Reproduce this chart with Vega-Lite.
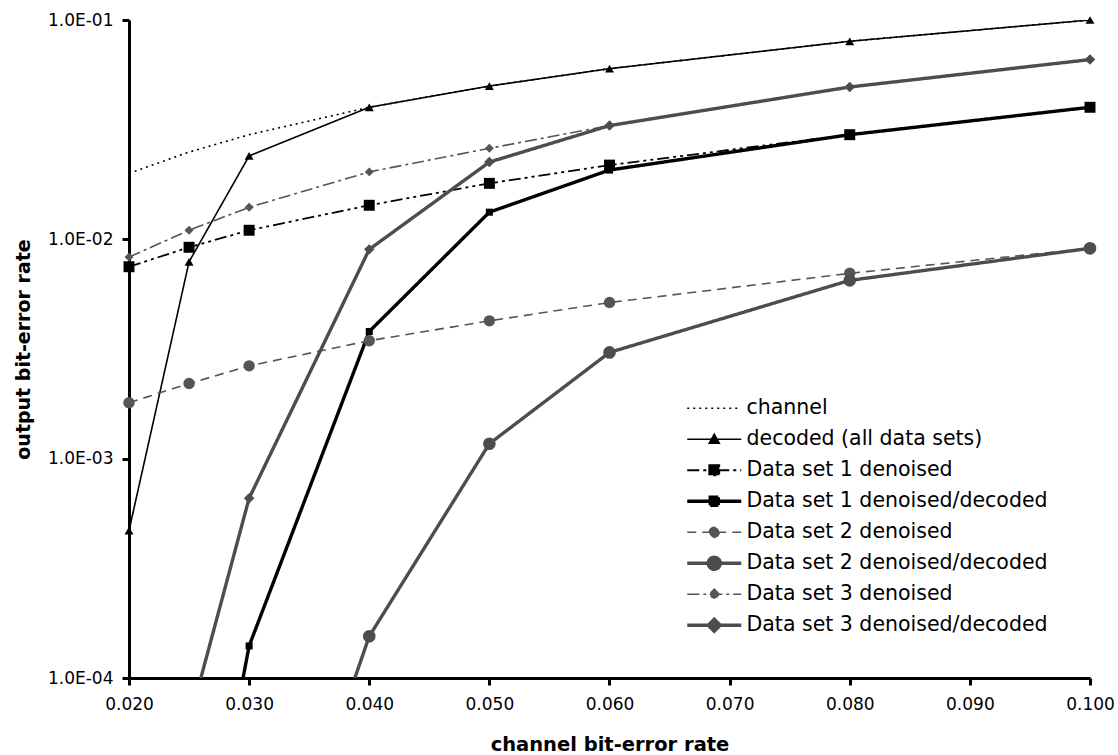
{
  "$schema": "https://vega.github.io/schema/vega-lite/v6.json",
  "width": 961,
  "height": 658,
  "autosize": {"type": "none"},
  "padding": {"left": 129, "top": 20, "right": 28, "bottom": 77},
  "background": "white",
  "config": {
    "view": {"stroke": null},
    "font": "DejaVu Sans",
    "axis": {
      "grid": false,
      "domainColor": "#000000",
      "domainWidth": 3,
      "tickColor": "#000000",
      "tickWidth": 3,
      "tickSize": 7,
      "labelFont": "DejaVu Sans",
      "labelFontSize": 17,
      "labelColor": "#000000",
      "titleFont": "DejaVu Sans",
      "titleFontWeight": "bold",
      "titleFontSize": 19.5,
      "titleColor": "#000000"
    }
  },
  "data": {
    "values": [
      {"series": "channel", "x": 0.02, "y": 0.02},
      {"series": "channel", "x": 0.025, "y": 0.025},
      {"series": "channel", "x": 0.03, "y": 0.03},
      {"series": "channel", "x": 0.04, "y": 0.04},
      {"series": "channel", "x": 0.05, "y": 0.05},
      {"series": "channel", "x": 0.06, "y": 0.06},
      {"series": "channel", "x": 0.08, "y": 0.08},
      {"series": "channel", "x": 0.1, "y": 0.1},
      {"series": "decoded (all data sets)", "x": 0.02, "y": 0.00047},
      {"series": "decoded (all data sets)", "x": 0.025, "y": 0.0079},
      {"series": "decoded (all data sets)", "x": 0.03, "y": 0.024},
      {"series": "decoded (all data sets)", "x": 0.04, "y": 0.04},
      {"series": "decoded (all data sets)", "x": 0.05, "y": 0.05},
      {"series": "decoded (all data sets)", "x": 0.06, "y": 0.06},
      {"series": "decoded (all data sets)", "x": 0.08, "y": 0.08},
      {"series": "decoded (all data sets)", "x": 0.1, "y": 0.1},
      {"series": "Data set 1 denoised", "x": 0.02, "y": 0.0075},
      {"series": "Data set 1 denoised", "x": 0.025, "y": 0.0092},
      {"series": "Data set 1 denoised", "x": 0.03, "y": 0.011},
      {"series": "Data set 1 denoised", "x": 0.04, "y": 0.0143},
      {"series": "Data set 1 denoised", "x": 0.05, "y": 0.018},
      {"series": "Data set 1 denoised", "x": 0.06, "y": 0.0218},
      {"series": "Data set 1 denoised", "x": 0.08, "y": 0.03},
      {"series": "Data set 1 denoised", "x": 0.1, "y": 0.04},
      {"series": "Data set 1 denoised/decoded", "x": 0.025, "y": 0.000005},
      {"series": "Data set 1 denoised/decoded", "x": 0.03, "y": 0.00014},
      {"series": "Data set 1 denoised/decoded", "x": 0.04, "y": 0.0038},
      {"series": "Data set 1 denoised/decoded", "x": 0.05, "y": 0.0133},
      {"series": "Data set 1 denoised/decoded", "x": 0.06, "y": 0.0207},
      {"series": "Data set 1 denoised/decoded", "x": 0.08, "y": 0.03},
      {"series": "Data set 1 denoised/decoded", "x": 0.1, "y": 0.04},
      {"series": "Data set 2 denoised", "x": 0.02, "y": 0.0018},
      {"series": "Data set 2 denoised", "x": 0.025, "y": 0.0022},
      {"series": "Data set 2 denoised", "x": 0.03, "y": 0.00265},
      {"series": "Data set 2 denoised", "x": 0.04, "y": 0.00345},
      {"series": "Data set 2 denoised", "x": 0.05, "y": 0.00425},
      {"series": "Data set 2 denoised", "x": 0.06, "y": 0.00515},
      {"series": "Data set 2 denoised", "x": 0.08, "y": 0.007},
      {"series": "Data set 2 denoised", "x": 0.1, "y": 0.0091},
      {"series": "Data set 2 denoised/decoded", "x": 0.03, "y": 0.000004},
      {"series": "Data set 2 denoised/decoded", "x": 0.04, "y": 0.000155},
      {"series": "Data set 2 denoised/decoded", "x": 0.05, "y": 0.00117},
      {"series": "Data set 2 denoised/decoded", "x": 0.06, "y": 0.00305},
      {"series": "Data set 2 denoised/decoded", "x": 0.08, "y": 0.0065},
      {"series": "Data set 2 denoised/decoded", "x": 0.1, "y": 0.0091},
      {"series": "Data set 3 denoised", "x": 0.02, "y": 0.0083},
      {"series": "Data set 3 denoised", "x": 0.025, "y": 0.011},
      {"series": "Data set 3 denoised", "x": 0.03, "y": 0.014},
      {"series": "Data set 3 denoised", "x": 0.04, "y": 0.0203},
      {"series": "Data set 3 denoised", "x": 0.05, "y": 0.026},
      {"series": "Data set 3 denoised", "x": 0.06, "y": 0.033},
      {"series": "Data set 3 denoised", "x": 0.08, "y": 0.0495},
      {"series": "Data set 3 denoised", "x": 0.1, "y": 0.066},
      {"series": "Data set 3 denoised/decoded", "x": 0.025, "y": 0.000063},
      {"series": "Data set 3 denoised/decoded", "x": 0.03, "y": 0.00066},
      {"series": "Data set 3 denoised/decoded", "x": 0.04, "y": 0.009},
      {"series": "Data set 3 denoised/decoded", "x": 0.05, "y": 0.0225},
      {"series": "Data set 3 denoised/decoded", "x": 0.06, "y": 0.033},
      {"series": "Data set 3 denoised/decoded", "x": 0.08, "y": 0.0495},
      {"series": "Data set 3 denoised/decoded", "x": 0.1, "y": 0.066}
    ]
  },
  "encoding": {
    "x": {
      "field": "x",
      "type": "quantitative",
      "scale": {"domain": [0.02, 0.1], "zero": false, "nice": false},
      "axis": {
        "title": "channel bit-error rate",
        "values": [0.02, 0.03, 0.04, 0.05, 0.06, 0.07, 0.08, 0.09, 0.1],
        "format": ".3f",
        "labelPadding": 11,
        "titlePadding": 23,
        "labelFlush": false,
        "labelOverlap": false
      }
    },
    "y": {
      "field": "y",
      "type": "quantitative",
      "scale": {"type": "log", "domain": [0.0001, 0.1], "nice": false},
      "axis": {
        "title": "output bit-error rate",
        "titleFontSize": 19,
        "values": [0.0001, 0.001, 0.01, 0.1],
        "labelExpr": "'1.0E-0' + round(-log(datum.value) / LN10)",
        "labelPadding": 9,
        "titlePadding": 14,
        "labelFlush": false,
        "labelOverlap": false
      }
    },
    "color": {
      "field": "series",
      "type": "nominal",
      "scale": {
        "domain": ["channel", "decoded (all data sets)", "Data set 1 denoised", "Data set 1 denoised/decoded", "Data set 2 denoised", "Data set 2 denoised/decoded", "Data set 3 denoised", "Data set 3 denoised/decoded"],
        "range": ["#000000", "#000000", "#000000", "#000000", "#555555", "#4d4d4d", "#555555", "#4d4d4d"]
      }
    }
  },
  "layer": [
    {
      "mark": {"type": "line", "clip": true},
      "encoding": {
        "color": {
          "field": "series",
          "type": "nominal",
          "legend": {
            "title": null,
            "orient": "none",
            "legendX": 575,
            "legendY": 378,
            "padding": 0,
            "gridAlign": "all",
            "symbolSize": 100,
            "labelOffset": 22,
            "labelFont": "DejaVu Sans",
            "labelFontSize": 20.5,
            "labelColor": "#000000",
            "labelLimit": 400,
            "rowPadding": 4,
            "encode": {
              "symbols": {
                "update": {
                  "shape": {"signal": "datum.value === 'channel' ? 'M-5.4,0H5.4' : datum.value === 'decoded (all data sets)' ? 'M-5.4,0H5.4M0,-1L1,0.8L-1,0.8Z' : datum.value === 'Data set 1 denoised' ? 'M-5.4,0H5.4M-1,-1H1V1H-1Z' : datum.value === 'Data set 1 denoised/decoded' ? 'M-5.4,0H5.4M-0.8,-0.8H0.8V0.8H-0.8Z' : datum.value === 'Data set 2 denoised' ? 'M-5.4,0H5.4M1,0A1,1 0 1,1 -1,0A1,1 0 1,1 1,0Z' : datum.value === 'Data set 2 denoised/decoded' ? 'M-5.4,0H5.4M1.2,0A1.2,1.2 0 1,1 -1.2,0A1.2,1.2 0 1,1 1.2,0Z' : datum.value === 'Data set 3 denoised' ? 'M-5.4,0H5.4M0,-1L1,0L0,1L-1,0Z' : 'M-5.4,0H5.4M0,-1.2L1.2,0L0,1.2L-1.2,0Z'"},
                  "fill": {"scale": "color", "field": "value"},
                  "size": {"value": 100}
                }
              }
            }
          }
        },
        "strokeDash": {
          "field": "series",
          "type": "nominal",
          "scale": {
            "domain": ["channel", "decoded (all data sets)", "Data set 1 denoised", "Data set 1 denoised/decoded", "Data set 2 denoised", "Data set 2 denoised/decoded", "Data set 3 denoised", "Data set 3 denoised/decoded"],
            "range": [[2, 4], [1, 0], [12, 4, 3, 4, 3, 4], [1, 0], [9, 6], [1, 0], [12, 4, 3, 4], [1, 0]]
          }
        },
        "strokeWidth": {
          "field": "series",
          "type": "nominal",
          "scale": {
            "type": "ordinal",
            "domain": ["channel", "decoded (all data sets)", "Data set 1 denoised", "Data set 1 denoised/decoded", "Data set 2 denoised", "Data set 2 denoised/decoded", "Data set 3 denoised", "Data set 3 denoised/decoded"],
            "range": [1.6, 1.6, 1.8, 3.4, 1.6, 3.4, 1.6, 3.4]
          }
        }
      }
    },
    {
      "transform": [
        {"filter": "datum.series !== 'channel' && datum.y >= 0.0001"}
      ],
      "mark": {"type": "point", "filled": true, "opacity": 1},
      "encoding": {
        "color": {"field": "series", "type": "nominal", "legend": null},
        "shape": {
          "field": "series",
          "type": "nominal",
          "legend": null,
          "scale": {
            "domain": ["decoded (all data sets)", "Data set 1 denoised", "Data set 1 denoised/decoded", "Data set 2 denoised", "Data set 2 denoised/decoded", "Data set 3 denoised", "Data set 3 denoised/decoded"],
            "range": ["triangle-up", "square", "square", "circle", "circle", "diamond", "diamond"]
          }
        },
        "size": {
          "field": "series",
          "type": "nominal",
          "legend": null,
          "scale": {
            "type": "ordinal",
            "domain": ["decoded (all data sets)", "Data set 1 denoised", "Data set 1 denoised/decoded", "Data set 2 denoised", "Data set 2 denoised/decoded", "Data set 3 denoised", "Data set 3 denoised/decoded"],
            "range": [80, 120, 50, 130, 160, 80, 110]
          }
        }
      }
    }
  ]
}
